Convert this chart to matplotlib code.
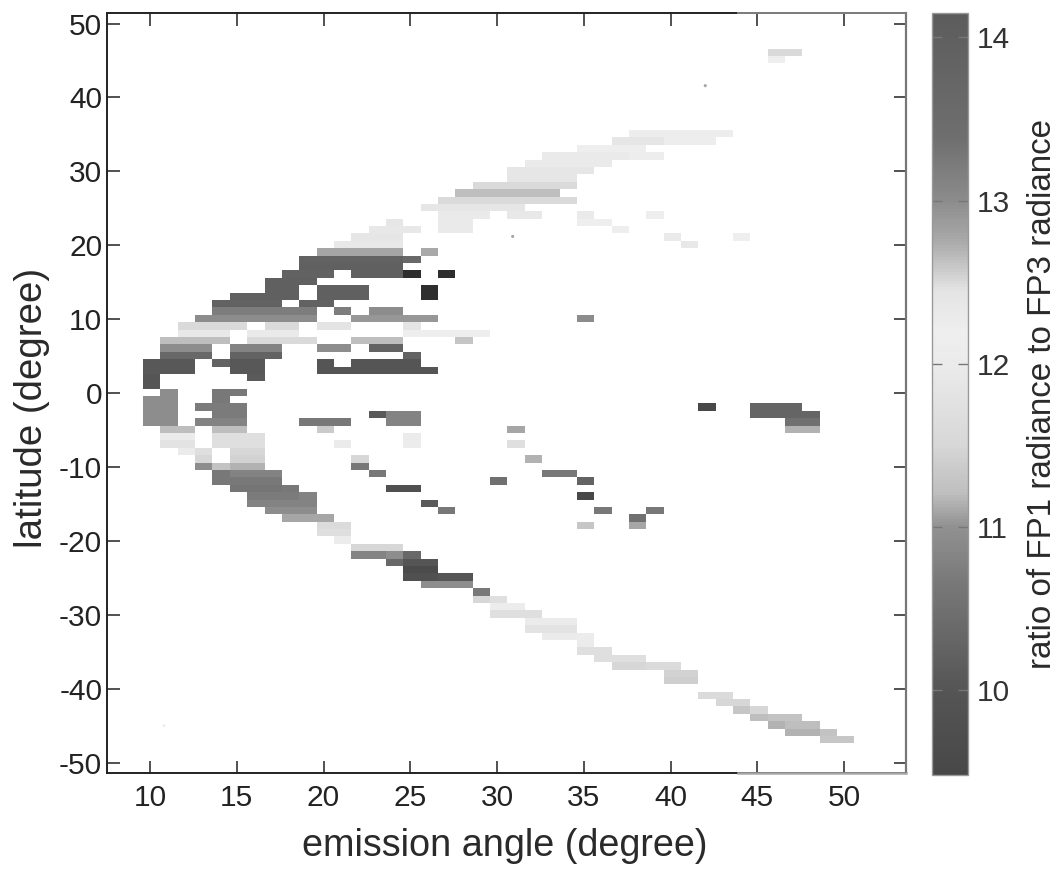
import numpy as np
import matplotlib
matplotlib.use('Agg')
import matplotlib.pyplot as plt
from matplotlib.colors import LinearSegmentedColormap, Normalize

plt.rcParams['font.family'] = ['Liberation Sans', 'DejaVu Sans']
plt.rcParams['axes.unicode_minus'] = False

# every run: latitude, first emission angle, last emission angle, ratio
north_arc = [
    (35, 38, 43, 12.15), (34, 37, 39, 12.4), (34, 40, 42, 12.15), (33, 35, 38, 12.2),
    (32, 33, 37, 12.3), (32, 38, 39, 12.15), (31, 32, 36, 12.3), (30, 31, 35, 12.4),
    (29, 31, 34, 12.4), (28, 29, 34, 12.5), (27, 28, 33, 12.65), (26, 27, 34, 12.5),
    (25, 26, 31, 12.4), (24, 27, 29, 12.3), (24, 31, 32, 12.35), (23, 24, 24, 12.4),
    (23, 27, 28, 12.3), (22, 23, 25, 12.35), (22, 27, 28, 12.3), (21, 22, 24, 12.4),
    (20, 21, 24, 12.35), (19, 20, 24, 12.8), (19, 26, 26, 12.75),
]
dark_band = [
    (18, 19, 24, 13.9), (18, 25, 25, 13.6), (17, 19, 24, 13.95), (16, 18, 20, 13.9),
    (16, 22, 24, 13.95), (16, 25, 25, 14.6), (16, 27, 27, 14.6),
    (15, 17, 19, 13.95), (14, 17, 18, 13.95), (14, 20, 22, 13.95), (14, 26, 26, 14.6),
    (13, 15, 18, 13.95), (13, 20, 22, 13.95), (13, 26, 26, 14.3), (12, 14, 17, 13.9),
    (12, 19, 20, 13.9),
]
equator_rows = [
    (11, 14, 19, 13.2), (11, 21, 21, 13.2), (11, 23, 24, 13.0), (10, 13, 19, 13.0),
    (10, 22, 26, 12.9), (10, 35, 35, 13.0), (9, 12, 15, 12.5), (9, 17, 18, 12.5),
    (9, 20, 21, 12.45), (9, 25, 25, 12.45), (8, 12, 14, 12.35), (8, 16, 18, 12.3),
    (8, 25, 29, 12.2), (7, 11, 14, 12.65), (7, 16, 19, 12.5), (7, 22, 24, 12.65),
    (7, 28, 28, 12.6), (6, 11, 13, 10.95), (6, 15, 17, 10.8), (6, 20, 21, 10.95),
    (6, 23, 24, 10.25), (5, 11, 13, 10.35), (5, 15, 17, 10.25), (5, 25, 25, 10.25),
    (4, 10, 12, 10.05), (4, 14, 14, 10.25), (4, 15, 16, 10.05), (4, 20, 20, 10.0),
    (4, 22, 25, 10.0), (3, 10, 12, 10.05), (3, 15, 16, 10.05), (3, 20, 26, 10.0),
    (2, 10, 10, 10.0), (2, 16, 16, 10.1), (1, 10, 10, 10.0), (0, 11, 11, 10.95),
    (0, 14, 15, 10.65), (-1, 10, 11, 10.95), (-1, 14, 14, 10.65), (-2, 10, 11, 10.95),
    (-2, 13, 15, 10.7), (-3, 10, 11, 10.95), (-3, 14, 15, 10.7), (-3, 23, 23, 10.1),
    (-3, 24, 25, 10.8), (-4, 10, 11, 10.95), (-4, 13, 15, 10.8), (-4, 19, 21, 10.65),
    (-4, 24, 25, 10.8), (-5, 11, 12, 11.2), (-5, 14, 15, 11.2), (-5, 20, 20, 11.35),
    (-6, 11, 12, 12.0), (-6, 14, 16, 11.7), (-6, 25, 25, 12.0), (-7, 11, 12, 11.8),
    (-7, 14, 16, 11.7), (-7, 21, 21, 12.0), (-7, 25, 25, 12.1),
]
south_arc = [
    (-8, 12, 12, 12.0), (-8, 13, 13, 11.7), (-8, 15, 16, 11.5), (-9, 13, 13, 11.5),
    (-9, 15, 16, 11.45), (-9, 22, 22, 11.5), (-10, 13, 13, 10.95), (-10, 14, 14, 11.25),
    (-10, 15, 16, 11.15), (-10, 22, 22, 10.65), (-11, 14, 14, 10.65), (-11, 15, 17, 10.8),
    (-11, 23, 23, 10.65), (-12, 14, 17, 10.65), (-13, 15, 17, 10.6), (-13, 18, 18, 10.65),
    (-13, 24, 25, 9.8), (-14, 16, 18, 10.7), (-14, 19, 19, 10.8), (-15, 16, 19, 10.8),
    (-15, 26, 26, 10.1), (-16, 17, 19, 10.95), (-16, 27, 27, 10.65), (-17, 18, 19, 11.1),
    (-17, 20, 20, 11.1), (-18, 20, 21, 11.6), (-19, 20, 21, 11.7), (-20, 21, 21, 12.1),
    (-21, 22, 24, 11.5), (-22, 22, 23, 10.8), (-22, 24, 24, 10.95), (-22, 25, 25, 10.35),
    (-23, 24, 24, 10.35), (-23, 25, 26, 10.0), (-24, 25, 26, 9.6), (-25, 25, 26, 9.8),
    (-25, 27, 28, 10.0), (-26, 26, 28, 10.95), (-27, 29, 29, 10.65), (-28, 29, 29, 11.5),
    (-28, 30, 30, 11.7), (-29, 30, 31, 12.1), (-30, 30, 32, 11.7), (-31, 32, 34, 12.0),
    (-32, 32, 34, 11.8), (-33, 33, 34, 12.0), (-33, 35, 35, 12.1), (-34, 35, 35, 12.0),
    (-35, 35, 36, 11.7), (-36, 36, 38, 11.7), (-37, 37, 38, 11.5), (-37, 39, 40, 11.6),
    (-38, 40, 41, 11.45), (-39, 40, 41, 11.4), (-41, 42, 43, 11.6), (-42, 43, 44, 11.5),
    (-43, 44, 44, 11.3), (-43, 45, 45, 11.5), (-44, 45, 45, 11.2), (-44, 46, 47, 11.25),
    (-45, 46, 46, 11.15), (-45, 47, 48, 11.2), (-46, 47, 48, 11.15), (-46, 49, 49, 11.25),
    (-47, 49, 50, 11.3),
]
scattered = [
    (46, 46, 47, 12.5), (45, 46, 46, 12.2), (24, 35, 35, 12.3), (24, 39, 39, 12.2),
    (23, 35, 36, 12.2), (22, 37, 37, 12.2), (21, 40, 40, 12.3), (21, 44, 44, 12.2),
    (20, 41, 41, 12.35), (-2, 42, 42, 9.5), (-2, 45, 47, 10.3), (-3, 45, 48, 10.3),
    (-4, 47, 48, 10.5), (-5, 47, 48, 11.15), (-5, 31, 31, 11.1), (-7, 31, 31, 11.7),
    (-9, 32, 32, 11.15), (-11, 33, 34, 10.65), (-12, 35, 35, 10.25), (-12, 30, 30, 10.5),
    (-14, 35, 35, 9.5), (-16, 36, 36, 10.65), (-16, 39, 39, 10.65), (-17, 38, 38, 10.5),
    (-18, 38, 38, 11.1), (-18, 35, 35, 11.3),
]
# tiny specks smaller than a cell
speck_angle = [42.0, 30.9, 10.8]
speck_lat = [41.6, 21.2, -45.0]
speck_ratio = [12.8, 12.8, 12.2]

lat_rows = np.arange(-52, 53)
angle_cols = np.arange(9, 53)
lat_ticks = [-50, -40, -30, -20, -10, 0, 10, 20, 30, 40, 50]
angle_ticks = [10, 15, 20, 25, 30, 35, 40, 45, 50]
ratio_ticks = [10, 11, 12, 13, 14]
# colour bar grey levels
ratio_levels = [9.48, 10, 10.35, 10.65, 11, 11.2, 11.5, 12, 12.2, 12.45, 12.75, 13, 13.4, 14.15]
grey_levels = [72, 85, 105, 120, 145, 190, 215, 235, 238, 228, 170, 140, 110, 92]

grid = np.full((len(lat_rows), len(angle_cols)), np.nan)
for runs in [north_arc, dark_band, equator_rows, south_arc, scattered]:
    for lat, first, last, ratio in runs:
        grid[lat - lat_rows[0], first - angle_cols[0]:last - angle_cols[0] + 1] = ratio

vmin, vmax = ratio_levels[0], ratio_levels[-1]
stops = [(r - vmin) / (vmax - vmin) for r in ratio_levels]
cmap = LinearSegmentedColormap.from_list(
    'scan_grey', [(s, (g / 255, g / 255, g / 255)) for s, g in zip(stops, grey_levels)], N=256)
cmap.set_over('#2e2e2e')
cmap.set_bad('white')
norm = Normalize(vmin, vmax)

W, H = 1059, 869
fig = plt.figure(figsize=(W / 100, H / 100), dpi=100)
ax = fig.add_axes([107 / W, 1 - 773 / H, 799 / W, 760.5 / H])

# cells sit slightly off the integer grid in the original
x_edges = np.append(angle_cols, angle_cols[-1] + 1) - 0.4
y_edges = np.append(lat_rows, lat_rows[-1] + 1) - 0.4
mesh = ax.pcolormesh(x_edges, y_edges, np.ma.masked_invalid(grid), cmap=cmap, norm=norm,
                     edgecolors='none', linewidth=0)
ax.scatter(speck_angle, speck_lat, c=speck_ratio, cmap=cmap, norm=norm, s=5, linewidths=0)

xlim = (7.52, 53.57)
ylim = (-51.4, 51.5)
ax.set_xlim(xlim)
ax.set_ylim(ylim)
ax.set_xticks(angle_ticks)
ax.set_yticks(lat_ticks)
ax.tick_params(direction='in', length=9, width=1.1, color='#222222', labelsize=21.5,
               labelcolor='#222222', top=True, right=True)
ax.tick_params(axis='x', pad=8)
ax.tick_params(axis='y', pad=3.5)
ax.set_xlabel('emission angle (degree)', fontsize=27.2, color='#2a2a2a')
ax.set_ylabel('latitude (degree)', fontsize=27.6, color='#2a2a2a')
ax.xaxis.set_label_coords(0.498, -0.0723)
ax.yaxis.set_label_coords(-0.0713, 0.48)

for name in ['left', 'bottom', 'top']:
    ax.spines[name].set_color('#222222')
    ax.spines[name].set_linewidth(1.4)
ax.spines['right'].set_color('#777777')
ax.spines['right'].set_linewidth(1.6)
# the scan fades the frame on the right hand side
ax.plot([43.9, xlim[1]], [ylim[0], ylim[0]], color='#a8a8a8', lw=1.8, clip_on=False, zorder=5)
ax.plot([43.9, xlim[1]], [ylim[1], ylim[1]], color='#808080', lw=1.4, clip_on=False, zorder=5)

cax = fig.add_axes([932 / W, 1 - 775 / H, 36 / W, 762 / H])
cbar = fig.colorbar(mesh, cax=cax, extend='neither')
cbar.set_ticks(ratio_ticks)
cbar.ax.tick_params(direction='in', length=7, width=1, color='#777777', labelsize=21.5,
                    labelcolor='#333333', left=True, right=True, pad=6)
cbar.outline.set_edgecolor('#999999')
cbar.outline.set_linewidth(1)
cbar.set_label('ratio of FP1 radiance to FP3 radiance', fontsize=23.9, color='#2a2a2a', labelpad=12.5)

fig.savefig('out.png', dpi=100, facecolor='white')
